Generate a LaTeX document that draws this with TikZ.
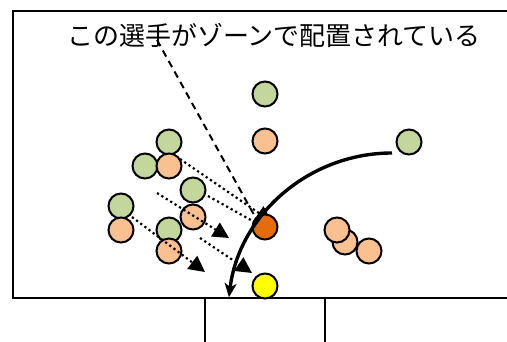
\documentclass[tikz,border=0pt]{standalone}
\usepackage{fontspec}
\newfontfamily\cjk{Noto Sans CJK JP}
\usetikzlibrary{arrows.meta}
\definecolor{pgreen}{HTML}{C3D69B}
\definecolor{porange}{HTML}{FAC090}
\definecolor{pdark}{HTML}{E46C0A}
\definecolor{pyellow}{HTML}{FFFF00}
\begin{document}
\begin{tikzpicture}[x=1pt,y=-1pt,
  pl/.style={circle,draw=black,line width=2pt,minimum size=25pt,inner sep=0pt},
  gr/.style={pl,fill=pgreen},
  og/.style={pl,fill=porange},
  dk/.style={pl,fill=pdark},
  yl/.style={pl,fill=pyellow},
  run/.style={line width=2.2pt,dash pattern=on 2.2pt off 3pt,-{Triangle[length=16pt,width=16pt]}},
  lineb/.style={line width=2pt}]
\useasboundingbox (0,0) rectangle (507,342);
% frame
\draw[lineb] (507,11) -- (13,11) -- (13,298) -- (507,298);
\draw[lineb] (205,342) -- (205,298);
\draw[lineb] (325,342) -- (325,298);
% text
\node[inner sep=0pt,font=\cjk\fontsize{26}{26}\selectfont] (lbl) at (274,35) {この選手がゾーンで配置されている};
% players
\node[gr] (g1) at (265,94) {};
\node[og] (o1) at (265,141) {};
\node[gr] (g2) at (409,142) {};
\node[gr] (g3) at (169,142) {};
\node[gr] (g4) at (145,166) {};
\node[og] (o2) at (169,166) {};
\node[gr] (g5) at (193,190) {};
\node[og] (o3) at (193,217) {};
\node[gr] (g6) at (121,206) {};
\node[og] (o4) at (121,230) {};
\node[gr] (g7) at (169,230) {};
\node[og] (o5) at (169,251) {};
\node[og] (o7) at (345,242) {};
\node[og] (o6) at (337,230) {};
\node[og] (o8) at (369,251) {};
\coordinate (s1) at (180,159);
\coordinate (e1) at (272,222);
\coordinate (s2) at (208,196);
\coordinate (e2) at (274,233);
\draw[run] (s1) -- (e1);
\draw[run] (s2) -- (e2);
\node[dk] (d1) at (265,227) {};
\node[yl] (y1) at (265,286) {};
\coordinate (s3) at (157,193);
\coordinate (e3) at (229,238);
\coordinate (s4) at (132,217);
\coordinate (e4) at (205,272);
\coordinate (s5) at (200,238);
\coordinate (e5) at (252,273);
\draw[run] (s3) -- (e3);
\draw[run] (s4) -- (e4);
\draw[run] (s5) -- (e5);
% dashed pointer
\coordinate (t1) at (157,40);
\draw[line width=2pt,dash pattern=on 7pt off 5pt] (t1) -- (d1.north west);
% curved ball path
\coordinate (b0) at (392,153);
\draw[line width=3.4pt,-{Stealth[length=14pt,width=12pt,inset=4pt]}] (b0) arc[start angle=-90,end angle=-173,radius=164.3];
\end{tikzpicture}
\end{document}
